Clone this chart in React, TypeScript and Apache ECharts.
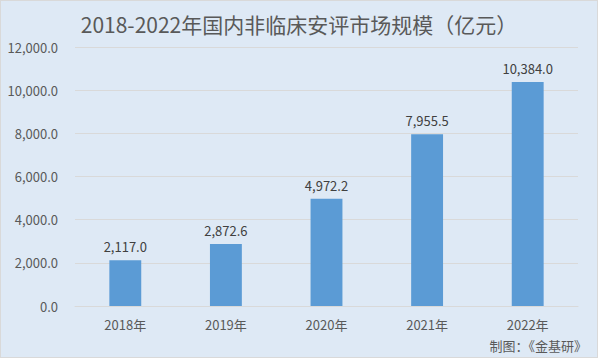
import React, { useEffect, useRef } from "react";
import * as echarts from "echarts";

const categories = ["2018年", "2019年", "2020年", "2021年", "2022年"];
const values = [2117.0, 2872.6, 4972.2, 7955.5, 10384.0];
const titleText = "2018-2022年国内非临床安评市场规模（亿元）";
const sourceText = "制图：《金基研》";

const fmt = (v: number) =>
  v.toLocaleString("en-US", { minimumFractionDigits: 1, maximumFractionDigits: 1 });

export default function App() {
  const ref = useRef<HTMLDivElement>(null);
  useEffect(() => {
    document.body.style.margin = "0";
    const chart = echarts.init(ref.current!, null, { renderer: "svg" });
    const font = "'Microsoft YaHei', 'Noto Sans CJK SC', sans-serif";
    chart.setOption({
      animation: false,
      backgroundColor: "#dee9f5",
      textStyle: { fontFamily: font },
      title: {
        text: titleText,
        left: "center",
        top: 7,
        textStyle: { fontSize: 21, fontWeight: "normal", color: "#595959", fontFamily: font },
      },
      graphic: [
        {
          type: "text",
          right: 10,
          bottom: 5,
          style: { text: sourceText, fontSize: 13, fill: "#595959", fontFamily: font },
        },
      ],
      grid: { left: 74, right: 19, top: 46, bottom: 51, containLabel: false },
      xAxis: {
        type: "category",
        data: categories,
        axisLine: { lineStyle: { color: "#d9d9d9" } },
        axisTick: { show: false },
        axisLabel: { color: "#595959", fontSize: 13, margin: 12 },
      },
      yAxis: {
        type: "value",
        min: 0,
        max: 12000,
        interval: 2000,
        axisLine: { show: false },
        axisTick: { show: false },
        splitLine: { lineStyle: { color: "#d9d9d9" } },
        axisLabel: { color: "#595959", fontSize: 13, margin: 17, formatter: (v: number) => fmt(v) },
      },
      series: [
        {
          type: "bar",
          data: values,
          barWidth: "31.7%",
          itemStyle: { color: "#5b9bd5" },
          label: {
            show: true,
            position: "top",
            distance: 7,
            color: "#404040",
            fontSize: 13,
            formatter: (p: any) => fmt(p.value),
          },
        },
      ],
    });
    return () => chart.dispose();
  }, []);
  return (
    <div
      ref={ref}
      style={{ width: 598, height: 358, boxSizing: "border-box", border: "1px solid #d9d9d9" }}
    />
  );
}
